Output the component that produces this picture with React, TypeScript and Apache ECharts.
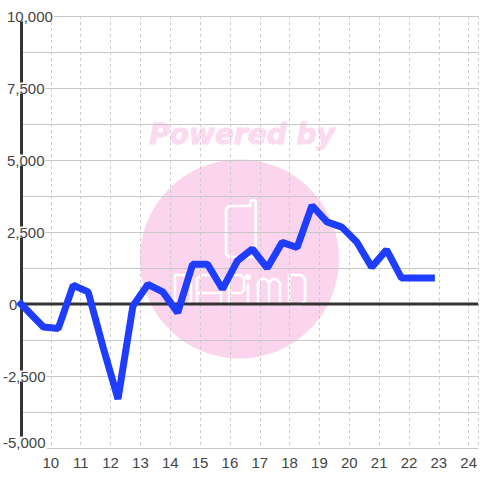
import React, { useEffect, useRef } from "react";
import * as echarts from "echarts";

const xValues = [9, 9.75, 10.25, 10.75, 11.25, 11.75, 12.25, 12.75, 13.25, 13.75, 14.25, 14.75, 15.25, 15.75, 16.25, 16.75, 17.25, 17.75, 18.25, 18.75, 19.25, 19.75, 20.25, 20.75, 21.25, 21.75, 22.25, 22.75];
const yValues = [0, -800, -850, 650, 420, -1500, -3300, -70, 680, 420, -300, 1380, 1380, 520, 1500, 1910, 1250, 2140, 1960, 3420, 2850, 2670, 2150, 1280, 1880, 900, 900, 900];
const zeroLine = [[9, 0], [24.32, 0]];
const yMin = -5000;
const yMax = 10000;
const yStep = 2500;

const white = "#ffffff";
const pink = "#fbd5ee";

function logoLine(points: number[][], width = 2.6) {
  return {
    type: "polyline",
    z: -1,
    shape: { points },
    style: { stroke: white, lineWidth: width, fill: "none", lineJoin: "round", lineCap: "round" },
  };
}

export default function App() {
  const ref = useRef<HTMLDivElement>(null);
  useEffect(() => {
    const chart = echarts.init(ref.current!, null, { renderer: "svg" });
    chart.setOption({
      animation: false,
      backgroundColor: "#ffffff",
      grid: { left: 20.5, right: 0, top: 16, bottom: 32, containLabel: false },
      graphic: [
        {
          type: "text",
          z: -1,
          x: 242,
          y: 134,
          style: {
            text: "Powered by",
            font: "italic bold 28px 'DejaVu Sans'",
            fill: "#fcdaf0",
            stroke: "#fcdaf0",
            lineWidth: 1,
            align: "center",
            verticalAlign: "middle",
          },
        },
        { type: "circle", z: -2, shape: { cx: 239.5, cy: 259, r: 99.5 }, style: { fill: pink } },
        logoLine([[250.5, 205.5], [250.5, 201.5], [252, 200], [254, 200], [255.5, 201.5], [255.5, 255], [253.5, 257], [229, 257], [226, 254], [226, 209], [229, 206], [250.5, 206]]),
        logoLine([[175, 275], [187, 275], [191, 279], [191, 301], [187, 305], [175, 305], [175, 275]]),
        logoLine([[197, 305], [197, 279], [201, 275], [217, 275], [221, 279], [221, 305]]),
        logoLine([[197, 293], [221, 293]]),
        logoLine([[229, 305], [229, 275], [241, 275], [244, 278], [244, 290], [241, 293], [229, 293]]),
        logoLine([[248, 285], [248, 305]]),
        { type: "circle", z: -1, shape: { cx: 248, cy: 277, r: 3 }, style: { fill: white } },
        logoLine([[258, 305], [258, 283], [262, 279], [266, 279], [269, 283], [269, 305]]),
        logoLine([[269, 283], [272, 279], [276, 279], [280, 283], [280, 305]]),
        logoLine([[289, 275], [301, 275], [305, 279], [305, 301], [301, 305], [289, 305], [289, 275]]),
      ],
      xAxis: {
        type: "value",
        min: 9,
        max: 24.32,
        interval: 1,
        axisLine: { show: false, onZero: false },
        axisTick: { show: false },
        axisLabel: {
          show: true,
          showMinLabel: false,
          showMaxLabel: false,
          color: "#444444",
          fontFamily: "Liberation Sans",
          fontSize: 15,
          margin: 7,
        },
        splitLine: { show: true, lineStyle: { color: "#cccccc", type: [3, 3], width: 1 } },
      },
      yAxis: {
        type: "value",
        min: yMin,
        max: yMax,
        interval: yStep,
        axisLine: { show: true, onZero: false, lineStyle: { color: "#333333", width: 3 } },
        axisTick: { show: false },
        axisLabel: {
          show: true,
          align: "left",
          margin: 18,
          color: "#444444",
          formatter: (v: number) => {
            const s = v.toLocaleString("en-US");
            if (v === yMin) return `{low|${s}}`;
            if (v === 0) return `{zero|${s}}`;
            return v < 0 ? `{neg|${s}}` : `{pos|${s}}`;
          },
          rich: {
            pos: { fontFamily: "Liberation Sans", fontSize: 15, color: "#444444", backgroundColor: white, padding: [-2, 1, -2, 4] },
            neg: { fontFamily: "Liberation Sans", fontSize: 15, color: "#444444", backgroundColor: white, padding: [-2, 1, -2, 0] },
            low: { fontFamily: "Liberation Sans", fontSize: 15, color: "#444444", backgroundColor: white, padding: [-2, 1, 10, 0] },
            zero: { fontFamily: "Liberation Sans", fontSize: 15, color: "#444444", backgroundColor: white, padding: [-2, 0, -2, 6] },
          },
        },
        splitLine: { show: true, lineStyle: { color: "#c8c8c8", width: 1 } },
        minorTick: { show: false, splitNumber: 2 },
        minorSplitLine: { show: true, lineStyle: { color: "#c8c8c8", width: 1 } },
      },
      series: [
        {
          name: "zero",
          type: "line",
          z: 3,
          silent: true,
          symbol: "none",
          data: zeroLine,
          lineStyle: { color: "#333333", width: 3 },
        },
        {
          name: "value",
          type: "line",
          z: 4,
          symbol: "none",
          data: xValues.map((x, i) => [x, yValues[i]]),
          lineStyle: { color: "#1f3dff", width: 7, join: "bevel", cap: "square" },
        },
      ],
    });
    return () => chart.dispose();
  }, []);
  return <div ref={ref} style={{ width: 480, height: 480, position: "fixed", left: 0, top: 0 }} />;
}
